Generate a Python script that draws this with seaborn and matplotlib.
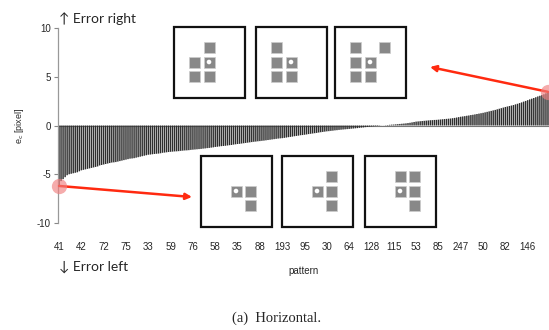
import matplotlib
matplotlib.use("Agg")
import matplotlib.pyplot as plt
import seaborn as sns
import pandas as pd
from matplotlib.patches import Rectangle, Ellipse

# sorted horizontal error per pattern
errors = [
    -6.2, -5.7, -5.5, -5.3, -5.1, -5.0, -4.95, -4.9, -4.85, -4.8, -4.7,
    -4.6, -4.55, -4.5, -4.45, -4.4, -4.35, -4.3, -4.25, -4.2, -4.1, -4.05,
    -4.0, -3.95, -3.9, -3.85, -3.8, -3.78, -3.75, -3.7, -3.65, -3.6, -3.55,
    -3.5, -3.45, -3.4, -3.38, -3.35, -3.3, -3.25, -3.2, -3.15, -3.1, -3.05,
    -3.0, -2.98, -2.95, -2.92, -2.9, -2.88, -2.85, -2.8, -2.78, -2.75, -2.72,
    -2.7, -2.68, -2.66, -2.65, -2.63, -2.6, -2.58, -2.56, -2.55, -2.53, -2.5,
    -2.48, -2.46, -2.44, -2.42, -2.4, -2.37, -2.35, -2.32, -2.3, -2.27, -2.24,
    -2.2, -2.18, -2.15, -2.12, -2.1, -2.08, -2.05, -2.02, -2.0, -1.96, -1.93,
    -1.9, -1.88, -1.85, -1.82, -1.79, -1.76, -1.73, -1.7, -1.67, -1.65, -1.62,
    -1.6, -1.57, -1.55, -1.52, -1.49, -1.46, -1.43, -1.4, -1.37, -1.34, -1.32,
    -1.3, -1.27, -1.24, -1.2, -1.17, -1.14, -1.1, -1.07, -1.04, -1.0, -0.98,
    -0.95, -0.92, -0.88, -0.85, -0.82, -0.79, -0.76, -0.72, -0.69, -0.66, -0.63,
    -0.6, -0.58, -0.55, -0.53, -0.5, -0.48, -0.45, -0.43, -0.41, -0.39, -0.37,
    -0.35, -0.33, -0.31, -0.29, -0.27, -0.24, -0.22, -0.2, -0.17, -0.15, -0.12,
    -0.1, -0.08, -0.06, -0.05, -0.03, -0.01, 0.01, 0.03, 0.05, 0.07, 0.09,
    0.1, 0.12, 0.14, 0.16, 0.18, 0.2, 0.22, 0.25, 0.28, 0.32, 0.36,
    0.4, 0.42, 0.44, 0.46, 0.48, 0.5, 0.52, 0.54, 0.55, 0.57, 0.58,
    0.6, 0.62, 0.64, 0.66, 0.68, 0.7, 0.72, 0.75, 0.78, 0.82, 0.86,
    0.9, 0.93, 0.96, 1.0, 1.03, 1.07, 1.1, 1.14, 1.18, 1.22, 1.26,
    1.3, 1.35, 1.4, 1.45, 1.5, 1.55, 1.6, 1.66, 1.72, 1.78, 1.84,
    1.9, 1.95, 2.0, 2.05, 2.1, 2.17, 2.23, 2.3, 2.37, 2.45, 2.52,
    2.6, 2.68, 2.75, 2.82, 2.9, 2.98, 3.05, 3.12, 3.2, 3.3, 3.45,
]
tick_labels = ["41", "42", "72", "75", "33", "59", "76", "58", "35", "88", "193",
               "95", "30", "64", "128", "115", "53", "85", "247", "50", "82", "146"]
tick_every = 11

# example patterns: cells relative to the reference pixel (dx, dy), dy down
top_patterns = [
    [(0, -1), (-1, 0), (-1, 1), (0, 1)],
    [(-1, -1), (-1, 0), (-1, 1), (0, 1)],
    [(-1, -1), (1, -1), (-1, 0), (-1, 1), (0, 1)],
]
bottom_patterns = [
    [(1, 0), (1, 1)],
    [(1, -1), (1, 0), (1, 1)],
    [(0, -1), (1, -1), (1, 0), (1, 1)],
]

sns.set_style("white")
plt.rcParams["axes.unicode_minus"] = False
plt.rcParams["font.family"] = ["Liberation Sans", "DejaVu Sans"]

W, H = 549, 330
fig = plt.figure(figsize=(W / 100, H / 100), dpi=100)
ax = fig.add_axes([58 / W, 1 - 223 / H, 1 - 58 / W, 195 / H])

df = pd.DataFrame({"pos": range(len(errors)), "err": errors})
sns.barplot(data=df, x="pos", y="err", color="#2e2e2e", saturation=1,
            width=0.72, linewidth=0, ax=ax)
for p in ax.patches:
    p.set_snap(False)
ax.axhline(0, color="#777777", lw=0.8, zorder=0)

ax.set_ylim(-10, 10)
ax.set_xlim(-0.5, len(errors) - 0.5)
ax.set_yticks([-10, -5, 0, 5, 10])
ax.set_xticks(range(0, len(errors), tick_every))
ax.set_xticklabels(tick_labels)
ax.tick_params(axis="x", length=0, pad=14, labelsize=7)
ax.tick_params(axis="y", length=3, width=0.8, color="#888888", labelsize=7, pad=2,
               left=True)
ax.set_xlabel("pattern", fontsize=7, labelpad=10)
ax.set_ylabel(r"e$_\mathrm{c}$ [pixel]", fontsize=6.5, labelpad=8)
sns.despine(ax=ax, bottom=True)
ax.spines["left"].set_color("#999999")
ax.spines["left"].set_linewidth(0.9)

# highlighted extremes
for i in (0, len(errors) - 1):
    ax.plot(i, errors[i], "o", ms=11, color="#f08080", alpha=0.65,
            mec="none", clip_on=False, zorder=5)

arrow = dict(arrowstyle="-|>", color="#ff2a10", lw=1.8, mutation_scale=9,
             shrinkA=0, shrinkB=0)
ax.annotate("", xy=(192 / W, 1 - 197 / H), xycoords="figure fraction",
            xytext=(0, errors[0]), textcoords="data", arrowprops=arrow)
ax.annotate("", xy=(430 / W, 1 - 67 / H), xycoords="figure fraction",
            xytext=(len(errors) - 1, errors[-1]), textcoords="data", arrowprops=arrow)


def draw_pattern(cx, cy, cells):
    tr = fig.transFigure
    s = 71
    fig.patches.append(Rectangle(((cx - s / 2) / W, 1 - (cy + s / 2) / H), s / W, s / H,
                                 transform=tr, fill=True, fc="white", ec="#111111",
                                 lw=1.6, zorder=10))
    pitch, sq = 14.5, 11
    for dx, dy in [(0, 0)] + cells:
        x = cx + dx * pitch
        y = cy + dy * pitch
        fig.patches.append(Rectangle(((x - sq / 2) / W, 1 - (y + sq / 2) / H), sq / W, sq / H,
                                     transform=tr, fc="#888888", ec="#cccccc",
                                     lw=0.5, zorder=11))
    fig.patches.append(Ellipse((cx / W, 1 - cy / H), 4.6 / W, 4.6 / H, transform=tr,
                               fc="white", ec="none", zorder=12))


for cx, cells in zip([209, 291, 370], top_patterns):
    draw_pattern(cx, 62, cells)
for cx, cells in zip([236, 317, 400], bottom_patterns):
    draw_pattern(cx, 191, cells)

side = ["Lato", "DejaVu Sans"]
fig.text(59 / W, 1 - 19 / H, "\u2191 Error right", fontsize=10, family=side,
         va="center", ha="left")
fig.text(59 / W, 1 - 267 / H, "\u2193 Error left", fontsize=10, family=side,
         va="center", ha="left")
fig.text(277 / W, 1 - 318 / H, "(a)  Horizontal.", fontsize=10.5,
         family=["Liberation Serif", "DejaVu Serif"], va="center", ha="center")

fig.savefig("out.png", dpi=100)
